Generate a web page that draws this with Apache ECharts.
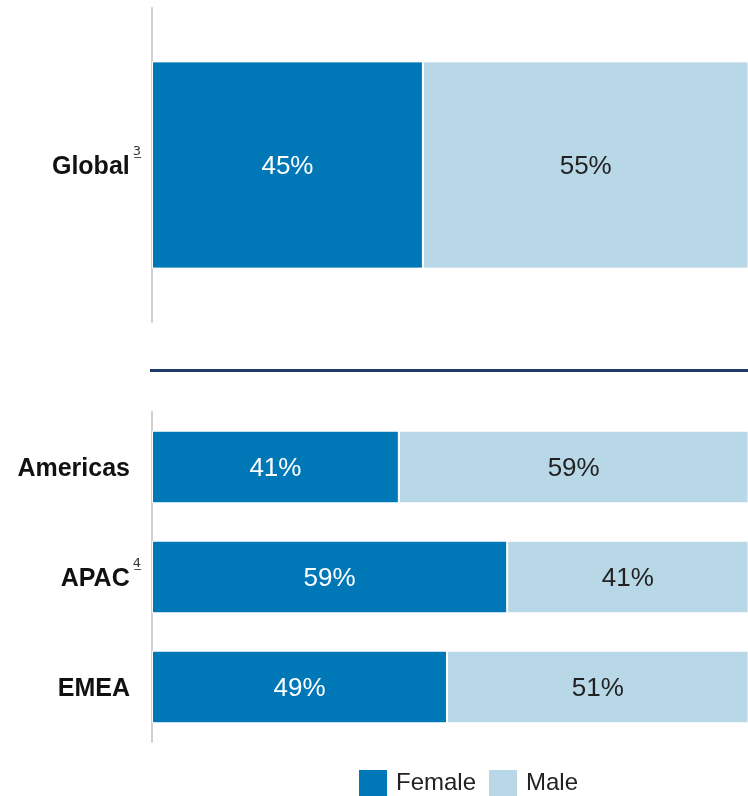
<!DOCTYPE html>
<html><head><meta charset="utf-8">
<script src="https://cdn.jsdelivr.net/npm/echarts@6/dist/echarts.min.js"></script>
<style>html,body{margin:0;padding:0;background:#fff}#c{width:748px;height:796px}</style>
</head><body><div id="c"></div>
<script>
var globalCats = ['Global'];
var globalFootnotes = ['3'];
var globalFemale = [45];
var globalMale = [55];
var regionCats = ['Americas', 'APAC', 'EMEA'];
var regionFootnotes = ['', '4', ''];
var regionFemale = [41, 59, 49];
var regionMale = [59, 41, 51];
var seriesNames = ['Female', 'Male'];

var FEMALE = '#0078b7', MALE = '#b9d8e7';
var FONT = 'Liberation Sans';

function catFormatter(cats, notes) {
  return function (v) {
    var i = cats.indexOf(v);
    var n = notes[i];
    if (n) return '{b|' + v + '}{s|' + n + '\u0332}';
    return '{b|' + v + '}{g|}';
  };
}
var richCat = {
  b: { fontSize: 25, fontWeight: 'bold', color: '#111', fontFamily: FONT, lineHeight: 44 },
  s: { fontSize: 13, color: '#333', fontFamily: 'DejaVu Sans', padding: [0, 0, 30, 3], lineHeight: 14 },
  g: { width: 11 }
};
function yAxis(idx, cats, notes) {
  return {
    type: 'category', gridIndex: idx, data: cats, inverse: true,
    axisLine: { show: true, lineStyle: { color: '#d3cfd0', width: 2 } },
    axisTick: { show: false },
    axisLabel: { margin: 11, padding: [4, 0, 0, 0], formatter: catFormatter(cats, notes), rich: richCat }
  };
}
function xAxis(idx) {
  return { type: 'value', gridIndex: idx, min: 0, max: 99, show: false };
}
function bar(name, idx, data, color, labelColor) {
  return {
    name: name, type: 'bar', stack: 's' + idx, xAxisIndex: idx, yAxisIndex: idx,
    data: data, barCategoryGap: '34%',
    itemStyle: { color: color, borderColor: '#fff', borderWidth: 1 },
    label: { show: true, position: 'inside', offset: [0, 2], formatter: '{c}%', color: labelColor, fontSize: 26, fontFamily: FONT },
    emphasis: { disabled: true }
  };
}
var chart = echarts.init(document.getElementById('c'), null, { renderer: 'canvas' });
chart.setOption({
  animation: false,
  backgroundColor: '#fff',
  grid: [
    { left: 152, right: 0, top: 8, height: 314 },
    { left: 152, right: 0, top: 412, height: 330 }
  ],
  xAxis: [xAxis(0), xAxis(1)],
  yAxis: [yAxis(0, globalCats, globalFootnotes), yAxis(1, regionCats, regionFootnotes)],
  legend: {
    data: seriesNames, left: 357, top: 768, padding: 0, itemWidth: 30, itemHeight: 28, itemGap: 11,
    icon: 'rect', textStyle: { fontSize: 24, color: '#222', fontFamily: FONT, padding: [0, 0, 0, 3] }
  },
  graphic: [{
    type: 'line', shape: { x1: 150, y1: 370.5, x2: 748, y2: 370.5 },
    style: { stroke: '#1f3a68', lineWidth: 3 }
  }],
  series: [
    bar(seriesNames[0], 0, globalFemale, FEMALE, '#fff'),
    bar(seriesNames[1], 0, globalMale, MALE, '#222'),
    bar(seriesNames[0], 1, regionFemale, FEMALE, '#fff'),
    bar(seriesNames[1], 1, regionMale, MALE, '#222')
  ]
});
</script></body></html>
